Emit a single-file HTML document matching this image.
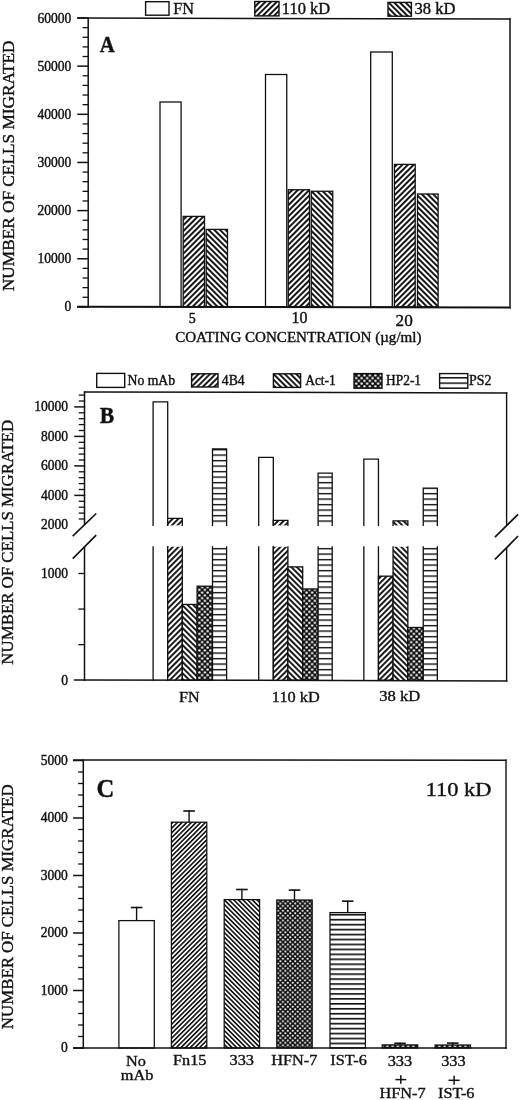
<!DOCTYPE html>
<html><head><meta charset="utf-8"><title>Figure</title><style>
html,body{margin:0;padding:0;background:#fff;width:520px;height:1100px;overflow:hidden}
svg{display:block;filter:grayscale(1)}
text{font-family:"Liberation Serif",serif;fill:#111;stroke:#111;stroke-width:0.4px}
</style></head><body>
<svg width="520" height="1100" viewBox="0 0 520 1100">
<defs>
<pattern id="pfA" patternUnits="userSpaceOnUse" width="4.0" height="10" patternTransform="rotate(45)"><rect width="4.0" height="10" fill="#fff"/><rect x="0" y="0" width="1.95" height="10" fill="#111"/></pattern>
<pattern id="pbA" patternUnits="userSpaceOnUse" width="4.0" height="10" patternTransform="rotate(-45)"><rect width="4.0" height="10" fill="#fff"/><rect x="0" y="0" width="1.95" height="10" fill="#111"/></pattern>
<pattern id="pfB" patternUnits="userSpaceOnUse" width="4.0" height="10" patternTransform="rotate(45)"><rect width="4.0" height="10" fill="#fff"/><rect x="0" y="0" width="1.9" height="10" fill="#111"/></pattern>
<pattern id="pbB" patternUnits="userSpaceOnUse" width="4.0" height="10" patternTransform="rotate(-45)"><rect width="4.0" height="10" fill="#fff"/><rect x="0" y="0" width="1.9" height="10" fill="#111"/></pattern>
<pattern id="pfC" patternUnits="userSpaceOnUse" width="3.3" height="10" patternTransform="rotate(45)"><rect width="3.3" height="10" fill="#fff"/><rect x="0" y="0" width="1.6" height="10" fill="#111"/></pattern>
<pattern id="pbC" patternUnits="userSpaceOnUse" width="3.3" height="10" patternTransform="rotate(-45)"><rect width="3.3" height="10" fill="#fff"/><rect x="0" y="0" width="1.6" height="10" fill="#111"/></pattern>
<pattern id="phB" patternUnits="userSpaceOnUse" width="10" height="5.5" y="3.4"><rect width="10" height="5.5" fill="#fff"/><rect width="10" height="1.4" fill="#111"/></pattern>
<pattern id="phL" patternUnits="userSpaceOnUse" width="10" height="5.4" y="4.4"><rect width="10" height="5.4" fill="#fff"/><rect width="10" height="1.5" fill="#111"/></pattern>
<pattern id="phC" patternUnits="userSpaceOnUse" width="10" height="4.95" y="3.1"><rect width="10" height="4.95" fill="#fff"/><rect width="10" height="1.65" fill="#111"/></pattern>
<pattern id="pdB" patternUnits="userSpaceOnUse" width="5.5" height="5.5"><rect width="5.5" height="5.5" fill="#111"/><circle cx="1.4" cy="1.4" r="1.22" fill="#fff"/><circle cx="4.15" cy="4.15" r="1.22" fill="#fff"/></pattern>
<pattern id="pdC" patternUnits="userSpaceOnUse" width="4.9" height="4.8"><rect width="4.9" height="4.8" fill="#111"/><circle cx="1.2" cy="1.2" r="1.07" fill="#fff"/><circle cx="3.65" cy="3.6" r="1.07" fill="#fff"/></pattern>
<pattern id="pcC" patternUnits="userSpaceOnUse" width="5.2" height="4"><rect width="5.2" height="4" fill="#111"/><rect x="1.3" y="1.3" width="2.6" height="1.5" fill="#fff"/></pattern>
</defs>
<g stroke="#111" fill="none" stroke-linecap="square">
<line x1="78.00" y1="18.00" x2="510.00" y2="18.95" stroke-width="1.5"/>
<line x1="510.00" y1="18.95" x2="510.00" y2="307.40" stroke-width="1.5"/>
<line x1="88.20" y1="18.00" x2="88.20" y2="306.90" stroke-width="1.5"/>
<line x1="78.00" y1="306.90" x2="88.20" y2="306.90" stroke-width="1.5"/>
<line x1="83.20" y1="297.27" x2="88.20" y2="297.27" stroke-width="1.3"/>
<line x1="83.20" y1="287.64" x2="88.20" y2="287.64" stroke-width="1.3"/>
<line x1="83.20" y1="278.01" x2="88.20" y2="278.01" stroke-width="1.3"/>
<line x1="83.20" y1="268.38" x2="88.20" y2="268.38" stroke-width="1.3"/>
<line x1="78.00" y1="258.75" x2="88.20" y2="258.75" stroke-width="1.5"/>
<line x1="83.20" y1="249.12" x2="88.20" y2="249.12" stroke-width="1.3"/>
<line x1="83.20" y1="239.49" x2="88.20" y2="239.49" stroke-width="1.3"/>
<line x1="83.20" y1="229.86" x2="88.20" y2="229.86" stroke-width="1.3"/>
<line x1="83.20" y1="220.23" x2="88.20" y2="220.23" stroke-width="1.3"/>
<line x1="78.00" y1="210.60" x2="88.20" y2="210.60" stroke-width="1.5"/>
<line x1="83.20" y1="200.97" x2="88.20" y2="200.97" stroke-width="1.3"/>
<line x1="83.20" y1="191.34" x2="88.20" y2="191.34" stroke-width="1.3"/>
<line x1="83.20" y1="181.71" x2="88.20" y2="181.71" stroke-width="1.3"/>
<line x1="83.20" y1="172.08" x2="88.20" y2="172.08" stroke-width="1.3"/>
<line x1="78.00" y1="162.45" x2="88.20" y2="162.45" stroke-width="1.5"/>
<line x1="83.20" y1="152.82" x2="88.20" y2="152.82" stroke-width="1.3"/>
<line x1="83.20" y1="143.19" x2="88.20" y2="143.19" stroke-width="1.3"/>
<line x1="83.20" y1="133.56" x2="88.20" y2="133.56" stroke-width="1.3"/>
<line x1="83.20" y1="123.93" x2="88.20" y2="123.93" stroke-width="1.3"/>
<line x1="78.00" y1="114.30" x2="88.20" y2="114.30" stroke-width="1.5"/>
<line x1="83.20" y1="104.67" x2="88.20" y2="104.67" stroke-width="1.3"/>
<line x1="83.20" y1="95.04" x2="88.20" y2="95.04" stroke-width="1.3"/>
<line x1="83.20" y1="85.41" x2="88.20" y2="85.41" stroke-width="1.3"/>
<line x1="83.20" y1="75.78" x2="88.20" y2="75.78" stroke-width="1.3"/>
<line x1="78.00" y1="66.15" x2="88.20" y2="66.15" stroke-width="1.5"/>
<line x1="83.20" y1="56.52" x2="88.20" y2="56.52" stroke-width="1.3"/>
<line x1="83.20" y1="46.89" x2="88.20" y2="46.89" stroke-width="1.3"/>
<line x1="83.20" y1="37.26" x2="88.20" y2="37.26" stroke-width="1.3"/>
<line x1="83.20" y1="27.63" x2="88.20" y2="27.63" stroke-width="1.3"/>
<line x1="78.00" y1="18.00" x2="88.20" y2="18.00" stroke-width="1.5"/>
<text transform="translate(64.54,311.40) scale(1,1.060)" font-size="13.55">0</text>
<text transform="translate(37.44,263.25) scale(1,1.060)" font-size="13.55">10000</text>
<text transform="translate(37.44,215.10) scale(1,1.060)" font-size="13.55">20000</text>
<text transform="translate(37.44,166.95) scale(1,1.060)" font-size="13.55">30000</text>
<text transform="translate(37.44,118.80) scale(1,1.060)" font-size="13.55">40000</text>
<text transform="translate(37.44,70.65) scale(1,1.060)" font-size="13.55">50000</text>
<text transform="translate(37.44,22.50) scale(1,1.060)" font-size="13.55">60000</text>
<rect x="145.60" y="1.70" width="23.40" height="13.50" fill="#fff" stroke-width="1.4"/>
<text transform="translate(173.33,14.10) scale(1,1.000)" font-size="16.20">FN</text>
<rect x="254.80" y="1.50" width="24.20" height="14.40" fill="url(#pfA)" stroke-width="1.4"/>
<text transform="translate(281.75,14.30) scale(1,0.970)" font-size="16.50">110 kD</text>
<rect x="388.00" y="2.40" width="23.40" height="13.80" fill="url(#pbA)" stroke-width="1.4"/>
<text transform="translate(414.51,14.30) scale(1,0.970)" font-size="16.60">38 kD</text>
<text transform="translate(99.80,52.20) scale(1,1.150)" font-size="20.80" font-weight="bold">A</text>
<rect x="160.00" y="102.00" width="21.10" height="204.90" fill="#fff" stroke-width="1.3"/>
<rect x="183.20" y="216.40" width="21.30" height="90.50" fill="url(#pfA)" stroke-width="1.3"/>
<rect x="206.20" y="229.40" width="21.30" height="77.50" fill="url(#pbA)" stroke-width="1.3"/>
<rect x="265.50" y="74.50" width="21.25" height="232.40" fill="#fff" stroke-width="1.3"/>
<rect x="288.25" y="189.75" width="21.25" height="117.15" fill="url(#pfA)" stroke-width="1.3"/>
<rect x="311.25" y="191.25" width="21.50" height="115.65" fill="url(#pbA)" stroke-width="1.3"/>
<rect x="370.70" y="52.00" width="21.60" height="254.90" fill="#fff" stroke-width="1.3"/>
<rect x="394.40" y="164.40" width="20.80" height="142.50" fill="url(#pfA)" stroke-width="1.3"/>
<rect x="417.50" y="194.00" width="20.60" height="112.90" fill="url(#pbA)" stroke-width="1.3"/>
<line x1="78.00" y1="306.70" x2="510.00" y2="307.45" stroke-width="1.9"/>
<text transform="translate(188.87,322.80) scale(1,1.000)" font-size="14.00">5</text>
<text transform="translate(291.60,322.60) scale(1,0.980)" font-size="16.00">10</text>
<text transform="translate(395.55,325.70) scale(1,1.000)" font-size="17.20">20</text>
<text transform="translate(175.18,342.30) scale(1,1.000)" font-size="15.07">COATING CONCENTRATION (µg/ml)</text>
<text transform="translate(14.3,165.8) rotate(-90)" font-size="17.25" text-anchor="middle" stroke-width="0.55">NUMBER OF CELLS MIGRATED</text>
<line x1="84.50" y1="391.90" x2="506.60" y2="392.90" stroke-width="1.5"/>
<line x1="84.50" y1="392.20" x2="84.50" y2="524.50" stroke-width="1.5"/>
<line x1="84.50" y1="547.40" x2="84.50" y2="680.20" stroke-width="1.5"/>
<line x1="506.60" y1="392.90" x2="506.60" y2="524.50" stroke-width="1.4"/>
<line x1="506.60" y1="548.20" x2="506.60" y2="680.90" stroke-width="1.4"/>
<line x1="73.30" y1="535.50" x2="95.60" y2="514.10" stroke-width="1.7"/>
<line x1="73.30" y1="558.00" x2="95.60" y2="535.80" stroke-width="1.7"/>
<line x1="495.50" y1="536.60" x2="517.50" y2="514.90" stroke-width="1.7"/>
<line x1="495.50" y1="558.90" x2="517.50" y2="536.60" stroke-width="1.7"/>
<line x1="79.40" y1="519.00" x2="84.50" y2="519.00" stroke-width="1.3"/>
<line x1="79.40" y1="513.10" x2="84.50" y2="513.10" stroke-width="1.3"/>
<line x1="79.40" y1="507.20" x2="84.50" y2="507.20" stroke-width="1.3"/>
<line x1="79.40" y1="501.30" x2="84.50" y2="501.30" stroke-width="1.3"/>
<line x1="75.00" y1="495.40" x2="84.50" y2="495.40" stroke-width="1.5"/>
<line x1="79.40" y1="489.50" x2="84.50" y2="489.50" stroke-width="1.3"/>
<line x1="79.40" y1="483.60" x2="84.50" y2="483.60" stroke-width="1.3"/>
<line x1="79.40" y1="477.70" x2="84.50" y2="477.70" stroke-width="1.3"/>
<line x1="79.40" y1="471.80" x2="84.50" y2="471.80" stroke-width="1.3"/>
<line x1="75.00" y1="465.90" x2="84.50" y2="465.90" stroke-width="1.5"/>
<line x1="79.40" y1="460.00" x2="84.50" y2="460.00" stroke-width="1.3"/>
<line x1="79.40" y1="454.10" x2="84.50" y2="454.10" stroke-width="1.3"/>
<line x1="79.40" y1="448.20" x2="84.50" y2="448.20" stroke-width="1.3"/>
<line x1="79.40" y1="442.30" x2="84.50" y2="442.30" stroke-width="1.3"/>
<line x1="75.00" y1="436.40" x2="84.50" y2="436.40" stroke-width="1.5"/>
<line x1="79.40" y1="430.50" x2="84.50" y2="430.50" stroke-width="1.3"/>
<line x1="79.40" y1="424.60" x2="84.50" y2="424.60" stroke-width="1.3"/>
<line x1="79.40" y1="418.70" x2="84.50" y2="418.70" stroke-width="1.3"/>
<line x1="79.40" y1="412.80" x2="84.50" y2="412.80" stroke-width="1.3"/>
<line x1="75.00" y1="406.90" x2="84.50" y2="406.90" stroke-width="1.5"/>
<line x1="79.40" y1="401.00" x2="84.50" y2="401.00" stroke-width="1.3"/>
<line x1="79.40" y1="395.10" x2="84.50" y2="395.10" stroke-width="1.3"/>
<line x1="79.00" y1="644.64" x2="84.50" y2="644.64" stroke-width="1.3"/>
<line x1="79.00" y1="609.06" x2="84.50" y2="609.06" stroke-width="1.3"/>
<line x1="79.00" y1="573.50" x2="84.50" y2="573.50" stroke-width="1.3"/>
<text transform="translate(34.14,411.10) scale(1,1.060)" font-size="13.55">10000</text>
<text transform="translate(40.92,440.60) scale(1,1.060)" font-size="13.55">8000</text>
<text transform="translate(40.92,470.10) scale(1,1.060)" font-size="13.55">6000</text>
<text transform="translate(40.92,499.60) scale(1,1.060)" font-size="13.55">4000</text>
<text transform="translate(40.92,529.10) scale(1,1.060)" font-size="13.55">2000</text>
<text transform="translate(41.02,578.10) scale(1,1.060)" font-size="13.55">1000</text>
<text transform="translate(61.34,684.50) scale(1,1.060)" font-size="13.55">0</text>
<rect x="96.70" y="373.40" width="28.00" height="14.00" fill="#fff" stroke-width="1.4"/>
<text transform="translate(127.51,385.10) scale(1,1.000)" font-size="13.70" stroke-width="0.2">No mAb</text>
<rect x="191.60" y="373.80" width="26.40" height="13.20" fill="url(#pfB)" stroke-width="1.4"/>
<text transform="translate(221.83,385.10) scale(1,1.000)" font-size="13.70" stroke-width="0.2">4B4</text>
<rect x="273.40" y="373.80" width="27.20" height="13.60" fill="url(#pbB)" stroke-width="1.4"/>
<text transform="translate(305.27,385.20) scale(1,1.050)" font-size="13.40" stroke-width="0.2">Act-1</text>
<rect x="354.00" y="373.60" width="28.00" height="14.60" fill="url(#pdB)" stroke-width="1.4"/>
<text transform="translate(386.11,385.20) scale(1,1.040)" font-size="13.40" stroke-width="0.2">HP2-1</text>
<rect x="439.60" y="373.60" width="28.20" height="14.60" fill="url(#phL)" stroke-width="1.4"/>
<text transform="translate(469.10,385.20) scale(1,1.000)" font-size="13.90" stroke-width="0.2">PS2</text>
<text transform="translate(99.64,423.40) scale(1,1.080)" font-size="21.70" font-weight="bold">B</text>
<rect x="153.10" y="546.80" width="14.60" height="133.40" fill="#fff" stroke="none"/>
<path d="M153.10,546.80V680.20M167.70,546.80V680.20" stroke-width="1.3"/>
<rect x="153.10" y="401.88" width="14.60" height="123.51" fill="#fff" stroke="none"/>
<path d="M153.10,525.40V401.88H167.70V525.40" stroke-width="1.3"/>
<rect x="167.70" y="546.80" width="14.60" height="133.40" fill="url(#pfB)" stroke="none"/>
<path d="M167.70,546.80V680.20M182.30,546.80V680.20" stroke-width="1.3"/>
<rect x="167.70" y="518.31" width="14.60" height="7.09" fill="url(#pfB)" stroke="none"/>
<path d="M167.70,525.40V518.31H182.30V525.40" stroke-width="1.3"/>
<rect x="182.30" y="604.44" width="14.80" height="75.76" fill="url(#pbB)" stroke-width="1.3"/>
<rect x="197.10" y="586.20" width="15.40" height="94.00" fill="url(#pdB)" stroke-width="1.3"/>
<rect x="212.50" y="546.80" width="14.10" height="133.40" fill="url(#phB)" stroke="none"/>
<path d="M212.50,546.80V680.20M226.60,546.80V680.20" stroke-width="1.3"/>
<rect x="212.50" y="449.00" width="14.10" height="76.40" fill="url(#phB)" stroke="none"/>
<path d="M212.50,525.40V449.00H226.60V525.40" stroke-width="1.3"/>
<rect x="258.70" y="546.80" width="14.60" height="133.40" fill="#fff" stroke="none"/>
<path d="M258.70,546.80V680.20M273.30,546.80V680.20" stroke-width="1.3"/>
<rect x="258.70" y="457.30" width="14.60" height="68.10" fill="#fff" stroke="none"/>
<path d="M258.70,525.40V457.30H273.30V525.40" stroke-width="1.3"/>
<rect x="273.30" y="546.80" width="14.60" height="133.40" fill="url(#pfB)" stroke="none"/>
<path d="M273.30,546.80V680.20M287.90,546.80V680.20" stroke-width="1.3"/>
<rect x="273.30" y="520.40" width="14.60" height="5.00" fill="url(#pfB)" stroke="none"/>
<path d="M273.30,525.40V520.40H287.90V525.40" stroke-width="1.3"/>
<rect x="287.90" y="566.88" width="14.80" height="113.32" fill="url(#pbB)" stroke-width="1.3"/>
<rect x="302.70" y="588.97" width="15.40" height="91.23" fill="url(#pdB)" stroke-width="1.3"/>
<rect x="318.10" y="546.80" width="14.10" height="133.40" fill="url(#phB)" stroke="none"/>
<path d="M318.10,546.80V680.20M332.20,546.80V680.20" stroke-width="1.3"/>
<rect x="318.10" y="473.10" width="14.10" height="52.30" fill="url(#phB)" stroke="none"/>
<path d="M318.10,525.40V473.10H332.20V525.40" stroke-width="1.3"/>
<rect x="363.85" y="546.80" width="14.60" height="133.40" fill="#fff" stroke="none"/>
<path d="M363.85,546.80V680.20M378.45,546.80V680.20" stroke-width="1.3"/>
<rect x="363.85" y="459.20" width="14.60" height="66.20" fill="#fff" stroke="none"/>
<path d="M363.85,525.40V459.20H378.45V525.40" stroke-width="1.3"/>
<rect x="378.45" y="576.17" width="14.60" height="104.03" fill="url(#pfB)" stroke-width="1.3"/>
<rect x="393.05" y="546.80" width="14.80" height="133.40" fill="url(#pbB)" stroke="none"/>
<path d="M393.05,546.80V680.20M407.85,546.80V680.20" stroke-width="1.3"/>
<rect x="393.05" y="520.80" width="14.80" height="4.60" fill="url(#pbB)" stroke="none"/>
<path d="M393.05,525.40V520.80H407.85V525.40" stroke-width="1.3"/>
<rect x="407.85" y="627.49" width="15.40" height="52.71" fill="url(#pdB)" stroke-width="1.3"/>
<rect x="423.25" y="546.80" width="14.10" height="133.40" fill="url(#phB)" stroke="none"/>
<path d="M423.25,546.80V680.20M437.35,546.80V680.20" stroke-width="1.3"/>
<rect x="423.25" y="488.10" width="14.10" height="37.30" fill="url(#phB)" stroke="none"/>
<path d="M423.25,525.40V488.10H437.35V525.40" stroke-width="1.3"/>
<line x1="74.50" y1="679.90" x2="506.60" y2="680.90" stroke-width="1.5"/>
<text transform="translate(179.01,701.50) scale(1,0.950)" font-size="16.10">FN</text>
<text transform="translate(271.84,701.80) scale(1,0.860)" font-size="16.30">110 kD</text>
<text transform="translate(379.17,701.00) scale(1,0.890)" font-size="16.60">38 kD</text>
<text transform="translate(13.3,542.3) rotate(-90)" font-size="16.85" text-anchor="middle" stroke-width="0.55">NUMBER OF CELLS MIGRATED</text>
<line x1="73.80" y1="759.95" x2="506.00" y2="760.30" stroke-width="1.5"/>
<line x1="506.00" y1="760.30" x2="506.00" y2="1048.00" stroke-width="1.4"/>
<line x1="83.30" y1="760.30" x2="83.30" y2="1048.00" stroke-width="1.5"/>
<line x1="73.80" y1="1048.00" x2="83.30" y2="1048.00" stroke-width="1.5"/>
<line x1="78.80" y1="1036.50" x2="83.30" y2="1036.50" stroke-width="1.3"/>
<line x1="78.80" y1="1025.00" x2="83.30" y2="1025.00" stroke-width="1.3"/>
<line x1="78.80" y1="1013.50" x2="83.30" y2="1013.50" stroke-width="1.3"/>
<line x1="78.80" y1="1002.00" x2="83.30" y2="1002.00" stroke-width="1.3"/>
<line x1="73.80" y1="990.50" x2="83.30" y2="990.50" stroke-width="1.5"/>
<line x1="78.80" y1="979.00" x2="83.30" y2="979.00" stroke-width="1.3"/>
<line x1="78.80" y1="967.50" x2="83.30" y2="967.50" stroke-width="1.3"/>
<line x1="78.80" y1="956.00" x2="83.30" y2="956.00" stroke-width="1.3"/>
<line x1="78.80" y1="944.50" x2="83.30" y2="944.50" stroke-width="1.3"/>
<line x1="73.80" y1="933.00" x2="83.30" y2="933.00" stroke-width="1.5"/>
<line x1="78.80" y1="921.50" x2="83.30" y2="921.50" stroke-width="1.3"/>
<line x1="78.80" y1="910.00" x2="83.30" y2="910.00" stroke-width="1.3"/>
<line x1="78.80" y1="898.50" x2="83.30" y2="898.50" stroke-width="1.3"/>
<line x1="78.80" y1="887.00" x2="83.30" y2="887.00" stroke-width="1.3"/>
<line x1="73.80" y1="875.50" x2="83.30" y2="875.50" stroke-width="1.5"/>
<line x1="78.80" y1="864.00" x2="83.30" y2="864.00" stroke-width="1.3"/>
<line x1="78.80" y1="852.50" x2="83.30" y2="852.50" stroke-width="1.3"/>
<line x1="78.80" y1="841.00" x2="83.30" y2="841.00" stroke-width="1.3"/>
<line x1="78.80" y1="829.50" x2="83.30" y2="829.50" stroke-width="1.3"/>
<line x1="73.80" y1="818.00" x2="83.30" y2="818.00" stroke-width="1.5"/>
<line x1="78.80" y1="806.50" x2="83.30" y2="806.50" stroke-width="1.3"/>
<line x1="78.80" y1="795.00" x2="83.30" y2="795.00" stroke-width="1.3"/>
<line x1="78.80" y1="783.50" x2="83.30" y2="783.50" stroke-width="1.3"/>
<line x1="78.80" y1="772.00" x2="83.30" y2="772.00" stroke-width="1.3"/>
<line x1="73.80" y1="760.50" x2="83.30" y2="760.50" stroke-width="1.5"/>
<text transform="translate(61.04,1052.10) scale(1,1.060)" font-size="13.55">0</text>
<text transform="translate(40.72,994.60) scale(1,1.060)" font-size="13.55">1000</text>
<text transform="translate(40.72,937.10) scale(1,1.060)" font-size="13.55">2000</text>
<text transform="translate(40.72,879.60) scale(1,1.060)" font-size="13.55">3000</text>
<text transform="translate(40.72,822.10) scale(1,1.060)" font-size="13.55">4000</text>
<text transform="translate(40.72,764.60) scale(1,1.060)" font-size="13.55">5000</text>
<text transform="translate(96.60,797.20) scale(1,1.030)" font-size="24.60" font-weight="bold" stroke-width="0.3">C</text>
<text transform="translate(425.73,796.00) scale(1,0.880)" font-size="22.40" stroke-width="0.55">110 kD</text>
<line x1="136.60" y1="920.60" x2="136.60" y2="907.50" stroke-width="1.4"/>
<line x1="131.60" y1="907.50" x2="141.60" y2="907.50" stroke-width="1.6"/>
<rect x="118.90" y="920.60" width="35.40" height="127.40" fill="#fff" stroke-width="1.25"/>
<line x1="189.10" y1="822.20" x2="189.10" y2="811.00" stroke-width="1.4"/>
<line x1="184.10" y1="811.00" x2="194.10" y2="811.00" stroke-width="1.6"/>
<rect x="171.40" y="822.20" width="35.40" height="225.80" fill="url(#pfC)" stroke-width="1.25"/>
<line x1="241.90" y1="899.60" x2="241.90" y2="889.50" stroke-width="1.4"/>
<line x1="236.90" y1="889.50" x2="246.90" y2="889.50" stroke-width="1.6"/>
<rect x="224.20" y="899.60" width="35.40" height="148.40" fill="url(#pbC)" stroke-width="1.25"/>
<line x1="294.50" y1="900.00" x2="294.50" y2="890.10" stroke-width="1.4"/>
<line x1="289.50" y1="890.10" x2="299.50" y2="890.10" stroke-width="1.6"/>
<rect x="276.80" y="900.00" width="35.40" height="148.00" fill="url(#pdC)" stroke-width="1.25"/>
<line x1="347.70" y1="912.60" x2="347.70" y2="901.20" stroke-width="1.4"/>
<line x1="342.70" y1="901.20" x2="352.70" y2="901.20" stroke-width="1.6"/>
<rect x="330.00" y="912.60" width="35.40" height="135.40" fill="url(#phC)" stroke-width="1.25"/>
<line x1="400.00" y1="1044.90" x2="400.00" y2="1043.30" stroke-width="1.4"/>
<line x1="395.00" y1="1043.30" x2="405.00" y2="1043.30" stroke-width="1.6"/>
<rect x="382.30" y="1044.90" width="35.40" height="3.10" fill="url(#pcC)" stroke-width="1.25"/>
<line x1="452.80" y1="1045.00" x2="452.80" y2="1043.10" stroke-width="1.4"/>
<line x1="447.80" y1="1043.10" x2="457.80" y2="1043.10" stroke-width="1.6"/>
<rect x="435.10" y="1045.00" width="35.40" height="3.00" fill="url(#pcC)" stroke-width="1.25"/>
<line x1="73.80" y1="1048.00" x2="506.00" y2="1048.00" stroke-width="1.6"/>
<text transform="translate(126.06,1065.50) scale(1,0.930)" font-size="16.30">No</text>
<text transform="translate(120.84,1079.90) scale(1,0.930)" font-size="16.30">mAb</text>
<text transform="translate(172.98,1065.20) scale(1,0.930)" font-size="16.30">Fn15</text>
<text transform="translate(229.55,1065.40) scale(1,0.930)" font-size="16.30">333</text>
<text transform="translate(271.21,1065.40) scale(1,0.930)" font-size="16.30">HFN-7</text>
<text transform="translate(330.33,1065.40) scale(1,0.930)" font-size="16.30">IST-6</text>
<text transform="translate(387.65,1066.00) scale(1,0.930)" font-size="16.30">333</text>
<text transform="translate(379.56,1097.60) scale(1,0.930)" font-size="16.30">HFN-7</text>
<text transform="translate(441.20,1066.10) scale(1,0.930)" font-size="16.30">333</text>
<text transform="translate(437.98,1097.80) scale(1,0.930)" font-size="16.30">IST-6</text>
<line x1="396.10" y1="1079.60" x2="405.50" y2="1079.60" stroke-width="1.5"/>
<line x1="400.80" y1="1076.10" x2="400.80" y2="1083.10" stroke-width="1.5"/>
<line x1="449.30" y1="1080.30" x2="458.90" y2="1080.30" stroke-width="1.5"/>
<line x1="454.10" y1="1076.50" x2="454.10" y2="1084.10" stroke-width="1.5"/>
<text transform="translate(13.2,906.8) rotate(-90)" font-size="16.85" text-anchor="middle" stroke-width="0.55">NUMBER OF CELLS MIGRATED</text>
</g>
</svg></body></html>
